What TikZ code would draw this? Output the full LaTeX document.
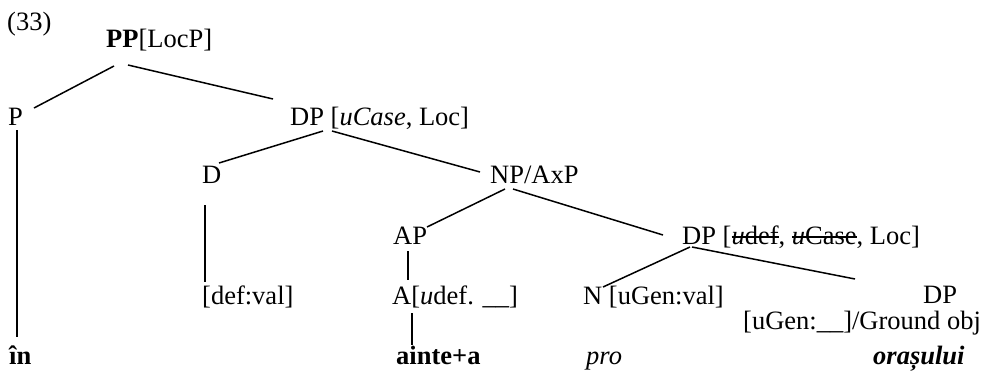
\documentclass[tikz,border=0pt]{standalone}
\usepackage{fontspec}
\setmainfont{Liberation Serif}
% struck-through text for deleted features
\newcommand\strikefeat[1]{\setbox0\hbox{#1}\rlap{\vrule width\wd0 height 0.30em depth -0.24em}\box0}
\begin{document}
\begin{tikzpicture}[x=1pt,y=-1pt,
  lbl/.style={anchor=base west,inner sep=0pt,font=\fontsize{26.5}{30}\selectfont},
  branch/.style={line width=1.5pt}]
\useasboundingbox (0,0) rectangle (982,370);

% labels of the tree, placed by their baselines
\node[lbl] (num)  at (7,30)    {(33)};
\node[lbl] (pp)   at (106,47)  {\textbf{PP}[LocP]};
\node[lbl] (p)    at (8,125)   {P};
\node[lbl] (dpa)  at (290,125) {DP [\textit{uCase}, Loc]};
\node[lbl] (d)    at (202,183) {D};
\node[lbl] (np)   at (490,183) {NP/AxP};
\node[lbl] (ap)   at (393,244) {AP};
\node[lbl] (dpb)  at (682,244) {DP [\strikefeat{\textit{u}def}, \strikefeat{\textit{u}Case}, Loc]};
\node[lbl] (defv) at (202,304) {[def:val]};
\node[lbl] (a)    at (392,304) {A[\textit{u}def. \_\_]};
\node[lbl] (n)    at (583,304) {N [uGen:val]};
\node[lbl] (dpc)  at (923,303) {DP};
\node[lbl] (gobj) at (743,329) {[uGen:\_\_]/Ground obj};
\node[lbl] (in)   at (9,364)   {\textbf{în}};
\node[lbl] (ain)  at (396,364) {\textbf{ainte+a}};
\node[lbl] (pro)  at (586,364) {\textit{pro}};
\node[lbl] (ora)  at (873,364) {\textbf{\textit{orașului}}};

% branches
\draw[branch] ([shift={(8,19)}]pp.base west) -- ([shift={(26,-17)}]p.base west);
\draw[branch] ([shift={(22,18)}]pp.base west) -- ([shift={(-17,-26)}]dpa.base west);
\draw[branch] ([shift={(9,5)}]p.base west) -- ([shift={(8,-27)}]in.base west);
\draw[branch] ([shift={(33,6)}]dpa.base west) -- ([shift={(17,-20)}]d.base west);
\draw[branch] ([shift={(42,6)}]dpa.base west) -- ([shift={(-10,-11)}]np.base west);
\draw[branch] ([shift={(3,22)}]d.base west) -- ([shift={(3,-22)}]defv.base west);
\draw[branch] ([shift={(15,6)}]np.base west) -- ([shift={(34,-17)}]ap.base west);
\draw[branch] ([shift={(23,6)}]np.base west) -- ([shift={(-19,-9)}]dpb.base west);
\draw[branch] ([shift={(15,7)}]ap.base west) -- ([shift={(16,-24)}]a.base west);
\draw[branch] ([shift={(20,9)}]a.base west) -- ([shift={(16,-19)}]ain.base west);
\draw[branch] ([shift={(8,3)}]dpb.base west) -- ([shift={(20,-17)}]n.base west);
\draw[branch] ([shift={(10,3)}]dpb.base west) -- ([shift={(-68,-24)}]dpc.base west);
\end{tikzpicture}
\end{document}
